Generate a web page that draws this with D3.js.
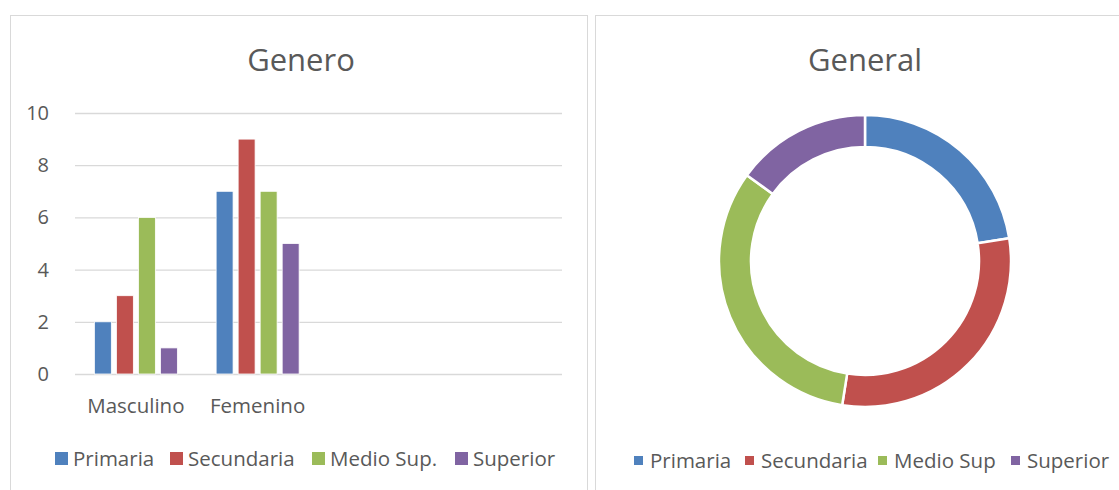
<!DOCTYPE html>
<html>
<head>
<meta charset="utf-8">
<script src="https://cdn.jsdelivr.net/npm/d3@7"></script>
<style>
  body { margin: 0; background: #fff; }
  svg text { font-family: "Open Sans", "Noto Sans", sans-serif; fill: #595959; }
</style>
</head>
<body>
<svg id="chart" width="1119" height="490"></svg>
<script>
// data
var categories = ["Masculino", "Femenino", "", ""];
var series = ["Primaria", "Secundaria", "Medio Sup.", "Superior"];
var masculino = [2, 3, 6, 1];
var femenino = [7, 9, 7, 5];
var yTicks = [0, 2, 4, 6, 8, 10];
var pieLabels = ["Primaria", "Secundaria", "Medio Sup", "Superior"];
var pieValues = [9, 12, 13, 6];
var colors = ["#4F81BD", "#C0504D", "#9BBB59", "#8064A2"];

var svg = d3.select("#chart");

// panel frames
svg.append("rect").attr("x", 10.5).attr("y", 15.5).attr("width", 577).attr("height", 490)
  .attr("fill", "#fff").attr("stroke", "#d9d9d9");
svg.append("rect").attr("x", 595.5).attr("y", 15.5).attr("width", 540).attr("height", 490)
  .attr("fill", "#fff").attr("stroke", "#d9d9d9");

// ---- left: bar chart ----
var pLeft = 75, pRight = 562, pTop = 113, pBottom = 374;

svg.append("text").attr("x", 301).attr("y", 71).attr("text-anchor", "middle")
  .style("font-size", "31px").text("Genero");

var y = d3.scaleLinear().domain([0, 10]).range([pBottom, pTop]);
var x0 = d3.scaleBand().domain(d3.range(categories.length)).range([pLeft, pRight]);
var x1 = d3.scaleBand().domain(series).range([0, x0.bandwidth()])
  .paddingInner(0.23).paddingOuter(0.88);

svg.append("g").selectAll("line").data(yTicks).enter().append("line")
  .attr("x1", pLeft).attr("x2", pRight)
  .attr("y1", d => y(d) + 0.5).attr("y2", d => y(d) + 0.5)
  .attr("stroke", "#d9d9d9").attr("stroke-width", 1.3);

svg.append("g").selectAll("text").data(yTicks).enter().append("text")
  .attr("x", 49).attr("y", d => y(d) + 7).attr("text-anchor", "end")
  .style("font-size", "20px").text(d => d);

var groups = [masculino, femenino];
groups.forEach(function(vals, gi) {
  svg.append("g").attr("transform", "translate(" + x0(gi) + ",0)")
    .selectAll("rect").data(vals).enter().append("rect")
    .attr("x", (d, i) => x1(series[i]))
    .attr("width", x1.bandwidth())
    .attr("y", d => y(d))
    .attr("height", d => y(0) - y(d))
    .attr("fill", (d, i) => colors[i])
    .attr("stroke", "#fff").attr("stroke-width", 0.8);
});

svg.append("g").selectAll("text").data(categories).enter().append("text")
  .attr("x", (d, i) => x0(i) + x0.bandwidth() / 2).attr("y", 413)
  .attr("text-anchor", "middle").style("font-size", "20.5px").text(d => d);

// legend (bar chart)
var legL = svg.append("g");
var legXs = [55, 170, 312, 455];
series.forEach(function(s, i) {
  legL.append("rect").attr("x", legXs[i]).attr("y", 452).attr("width", 13).attr("height", 13)
    .attr("fill", colors[i]);
  legL.append("text").attr("x", legXs[i] + 18).attr("y", 466)
    .style("font-size", "20.5px").text(s);
});

// ---- right: donut ----
svg.append("text").attr("x", 865).attr("y", 71).attr("text-anchor", "middle")
  .style("font-size", "31px").text("General");

var pie = d3.pie().sort(null).value(d => d);
var arc = d3.arc().innerRadius(114).outerRadius(146);

svg.append("g").attr("transform", "translate(865,261)")
  .selectAll("path").data(pie(pieValues)).enter().append("path")
  .attr("d", arc).attr("fill", (d, i) => colors[i])
  .attr("stroke", "#fff").attr("stroke-width", 2.5);

var legR = svg.append("g");
var legRXs = [634, 745, 878, 1011];
pieLabels.forEach(function(s, i) {
  legR.append("rect").attr("x", legRXs[i]).attr("y", 456).attr("width", 9).attr("height", 9)
    .attr("fill", colors[i]);
  legR.append("text").attr("x", legRXs[i] + 16).attr("y", 468)
    .style("font-size", "20.5px").text(s);
});
</script>
</body>
</html>
